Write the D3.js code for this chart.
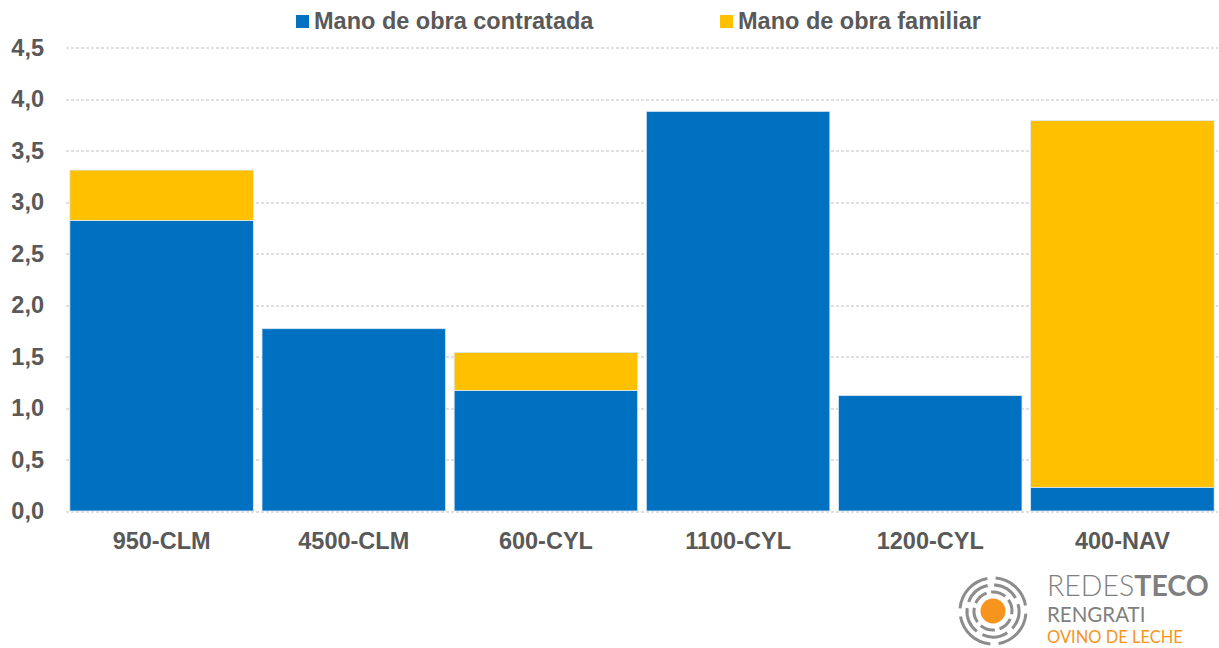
<!DOCTYPE html>
<html>
<head>
<meta charset="utf-8">
<script src="https://cdn.jsdelivr.net/npm/d3@7"></script>
<style>
  body { margin: 0; background: #fff; }
  svg { font-family: "Liberation Sans", Arial, sans-serif; }
  .axis text { fill: #595959; font-weight: bold; font-size: 23.5px; }
  .grid line { stroke: #bfbfbf; stroke-dasharray: 3,2; }
</style>
</head>
<body>
<svg id="chart" width="1219" height="648"></svg>
<script>
const categories = ['950-CLM', '4500-CLM', '600-CYL', '1100-CYL', '1200-CYL', '400-NAV'];
const contratada = [2.82, 1.77, 1.17, 3.88, 1.12, 0.23];
const familiar = [0.49, 0, 0.37, 0, 0, 3.56];
const seriesNames = ['Mano de obra contratada', 'Mano de obra familiar'];
const seriesColors = ['#0070C0', '#FFC000'];
const yTicks = [0, 0.5, 1, 1.5, 2, 2.5, 3, 3.5, 4, 4.5];

const margin = { top: 47.5, right: 1, bottom: 137, left: 66 };
const width = 1219 - margin.left - margin.right;
const height = 648 - margin.top - margin.bottom;

const svg = d3.select('#chart');
const chart = svg.append('g')
  .attr('transform', `translate(${margin.left},${margin.top})`);

const xScale = d3.scaleBand()
  .domain(categories)
  .range([0, width])
  .paddingInner(0.045)
  .paddingOuter(0.02);

const yScale = d3.scaleLinear()
  .domain([0, 4.5])
  .range([height, 0]);

// gridlines
chart.append('g')
  .attr('class', 'grid')
  .selectAll('line')
  .data(yTicks)
  .join('line')
  .attr('x1', 0)
  .attr('x2', width)
  .attr('y1', d => Math.round(yScale(d)) + 0.5)
  .attr('y2', d => Math.round(yScale(d)) + 0.5);

// y axis labels
const yAxis = d3.axisLeft(yScale)
  .tickValues(yTicks)
  .tickSize(0)
  .tickPadding(22)
  .tickFormat(d => d3.format('.1f')(d).replace('.', ','));

chart.append('g')
  .attr('class', 'axis y-axis')
  .call(yAxis)
  .call(g => g.select('.domain').remove());

// x axis labels
chart.append('g')
  .attr('class', 'axis x-axis')
  .attr('transform', `translate(0,${height})`)
  .call(d3.axisBottom(xScale).tickSize(0).tickPadding(21))
  .call(g => g.select('.domain').remove());

// stacked bars
const rows = categories.map((c, i) => ({ cat: c, contratada: contratada[i], familiar: familiar[i] }));
const stack = d3.stack().keys(['contratada', 'familiar'])(rows);

chart.append('g')
  .selectAll('g')
  .data(stack)
  .join('g')
  .attr('fill', (d, i) => seriesColors[i])
  .selectAll('rect')
  .data(d => d.filter(p => p[1] - p[0] > 0))
  .join('rect')
  .attr('x', d => xScale(d.data.cat))
  .attr('width', xScale.bandwidth())
  .attr('y', d => yScale(d[1]))
  .attr('height', d => yScale(d[0]) - yScale(d[1]))
  .attr('stroke', '#dbe8f5')
  .attr('stroke-width', 0.8);

// legend
const legendX = [296, 720];
const legend = svg.append('g');
seriesNames.forEach((name, i) => {
  legend.append('rect')
    .attr('x', legendX[i])
    .attr('y', 15)
    .attr('width', 13)
    .attr('height', 13)
    .attr('fill', seriesColors[i]);
  legend.append('text')
    .attr('x', legendX[i] + 18)
    .attr('y', 29)
    .attr('fill', '#595959')
    .attr('font-weight', 'bold')
    .attr('font-size', '23.5px')
    .text(name);
});

// logo
const logo = svg.append('g').attr('transform', 'translate(993,611)');
logo.append('circle').attr('r', 12.5).attr('fill', '#F7941D');
const arc = d3.arc();
[[19, 3, 6], [26, 3, 5], [33, 3, 4]].forEach(([r, w, n]) => {
  for (let k = 0; k < n; k++) {
    const span = (2 * Math.PI) / n;
    logo.append('path')
      .attr('d', arc({ innerRadius: r - w / 2, outerRadius: r + w / 2,
        startAngle: k * span + r * 0.05, endAngle: (k + 1) * span - 0.25 + r * 0.05 }))
      .attr('fill', '#8c8c8c');
  }
});
const logoText = svg.append('text')
  .attr('x', 1047)
  .attr('y', 596)
  .attr('font-family', 'Lato, "Open Sans", sans-serif')
  .attr('font-size', '28.5px')
  .attr('fill', '#7f7f7f');
logoText.append('tspan').attr('font-weight', '300').text('REDES');
logoText.append('tspan').attr('font-weight', 'bold').text('TECO');
svg.append('text')
  .attr('x', 1047)
  .attr('y', 622)
  .attr('font-family', 'Lato, "Open Sans", sans-serif')
  .attr('font-size', '20.5px')
  .attr('fill', '#7f7f7f')
  .text('RENGRATI');
svg.append('text')
  .attr('x', 1047)
  .attr('y', 643)
  .attr('font-family', 'Lato, "Open Sans", sans-serif')
  .attr('font-size', '16.5px')
  .attr('fill', '#F7941D')
  .text('OVINO DE LECHE');
</script>
</body>
</html>
